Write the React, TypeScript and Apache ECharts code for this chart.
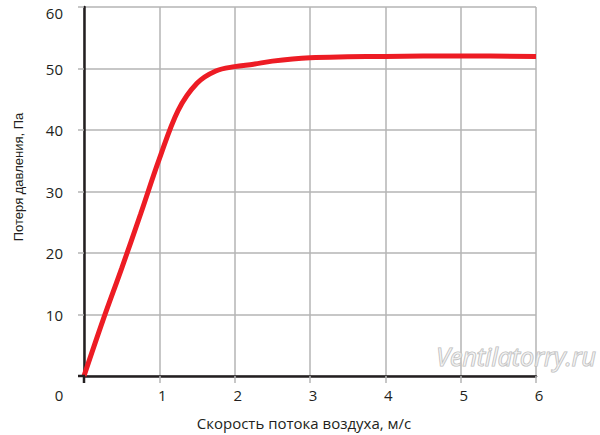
import React, { useEffect, useRef } from "react";
import * as echarts from "echarts";

const xValues = [0, 0.25, 0.5, 0.75, 1.0, 1.25, 1.5, 1.75, 2.0, 2.25, 2.5, 3.0, 3.5, 4.0, 5.0, 6.0];
const yValues = [0, 9, 17.5, 26.3, 35.3, 43.2, 47.6, 49.6, 50.3, 50.7, 51.2, 51.75, 51.9, 51.95, 52.05, 51.95];
const xTickLabels = ["0", "1", "2", "3", "4", "5", "6"];
const yTickLabels = ["0", "10", "20", "30", "40", "50", "60"];
const xTitle = "Скорость потока воздуха, м/с";
const yTitle = "Потеря давления, Па";
const watermark = "Ventilatorry.ru";

export default function App() {
  const ref = useRef<HTMLDivElement>(null);
  useEffect(() => {
    if (!ref.current) return;
    const chart = echarts.init(ref.current, null, { renderer: "svg" });
    const dark = "#231f20";
    const grey = "#b5b5b5";
    const font = "'Open Sans', sans-serif";
    const data = xValues.map((x, i) => [x, yValues[i]]);
    chart.setOption({
      animation: false,
      backgroundColor: "#ffffff",
      grid: { left: 84, top: 7, width: 452, height: 369, containLabel: false },
      xAxis: {
        type: "value",
        min: 0,
        max: 6,
        interval: 1,
        axisLine: { show: true, lineStyle: { color: dark, width: 2.5 } },
        axisTick: { show: true, length: 7, lineStyle: { color: grey, width: 1.5 } },
        splitLine: { show: true, lineStyle: { color: grey, width: 1.5 } },
        axisLabel: {
          margin: 11,
          fontSize: 15,
          fontFamily: font,
          color: dark,
          padding: [0, 0, 0, 6],
          formatter: (v: number) => (v === 0 ? "" : xTickLabels[Math.round(v)]),
        },
      },
      yAxis: {
        type: "value",
        min: 0,
        max: 60,
        interval: 10,
        axisLine: { show: true, lineStyle: { color: dark, width: 2.5 } },
        axisTick: { show: true, length: 6, lineStyle: { color: grey, width: 1.5 } },
        splitLine: { show: true, lineStyle: { color: grey, width: 1.5 } },
        axisLabel: {
          margin: 21,
          fontSize: 15,
          fontFamily: font,
          color: dark,
          formatter: (v: number) => {
            const i = Math.round(v / 10);
            if (i === 0) return "";
            if (i === 6) return "{top|" + yTickLabels[i] + "}";
            return yTickLabels[i];
          },
          rich: {
            top: { fontSize: 15, fontFamily: font, color: dark, padding: [11, 0, 0, 0] },
          },
        },
      },
      graphic: [
        { type: "line", shape: { x1: 78, y1: 376, x2: 85, y2: 376 }, style: { stroke: dark, lineWidth: 2.5 }, z: 10 },
        { type: "line", shape: { x1: 84, y1: 376, x2: 84, y2: 383 }, style: { stroke: dark, lineWidth: 2.5 }, z: 10 },
        {
          type: "text",
          x: 59,
          y: 395,
          style: { text: "0", fontSize: 15, fontFamily: font, fill: dark, align: "center", verticalAlign: "middle" },
        },
        {
          type: "text",
          x: 304,
          y: 423,
          style: { text: xTitle, fontSize: 15, fontFamily: font, fill: dark, align: "center", verticalAlign: "middle" },
        },
        {
          type: "text",
          x: 18,
          y: 177,
          rotation: Math.PI / 2,
          style: {
            text: yTitle,
            fontSize: 13,
            fontFamily: "'Liberation Sans', Arial, sans-serif",
            fill: dark,
            align: "center",
            verticalAlign: "middle",
          },
        },
        {
          type: "text",
          x: 596,
          y: 356,
          z: 20,
          style: {
            text: watermark,
            fontSize: 25,
            fontStyle: "italic",
            fontFamily: font,
            fill: "rgba(255,255,255,0.5)",
            stroke: "#bababa",
            lineWidth: 1.2,
            align: "right",
            verticalAlign: "middle",
          },
        },
      ],
      series: [
        {
          type: "line",
          data,
          smooth: 0.35,
          showSymbol: false,
          symbol: "none",
          lineStyle: { color: "#ed1c24", width: 5 },
          z: 5,
        },
      ],
    });
    return () => chart.dispose();
  }, []);
  return (
    <div
      ref={ref}
      style={{ position: "absolute", left: 0, top: 0, width: 600, height: 435, background: "#fff" }}
    />
  );
}
